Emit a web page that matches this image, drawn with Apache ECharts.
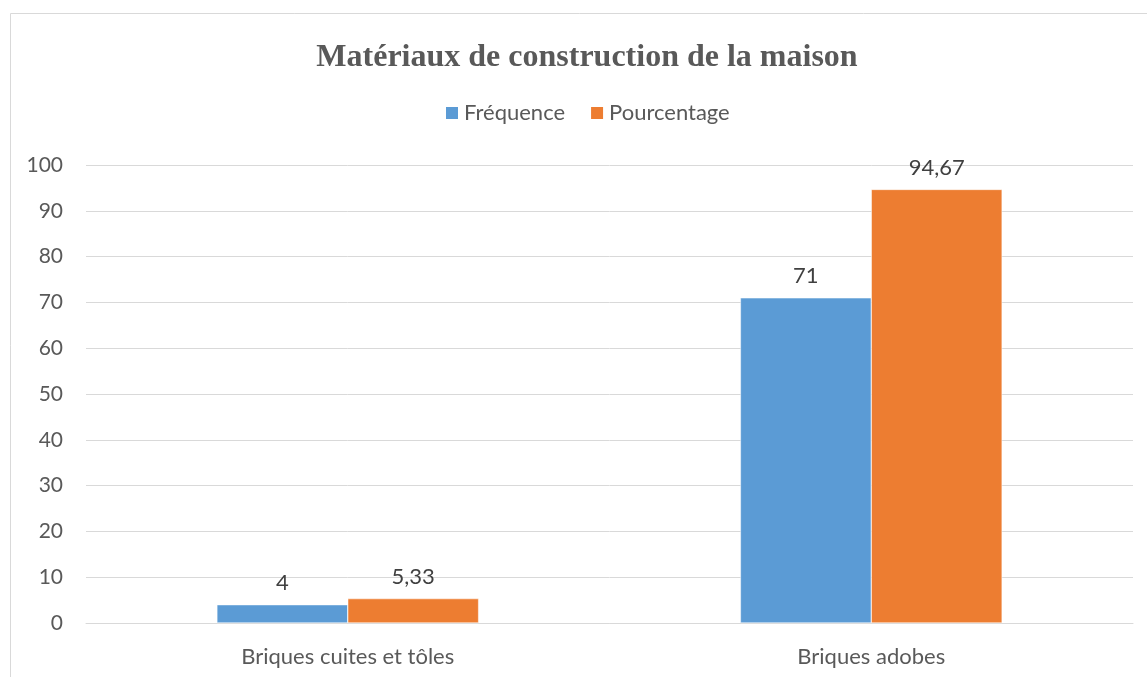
<!DOCTYPE html>
<html>
<head>
<meta charset="utf-8">
<script src="https://cdn.jsdelivr.net/npm/echarts@6/dist/echarts.min.js"></script>
<style>
html,body{margin:0;padding:0;background:#fff;}
#chart{width:1147px;height:677px;}
</style>
</head>
<body>
<div id="chart"></div>
<script>
// données
var categories = ['Briques cuites et tôles', 'Briques adobes'];
var frequence = [4, 71];
var pourcentage = [5.33, 94.67];

var chart = echarts.init(document.getElementById('chart'));

var labelFmt = function (p) {
    return String(p.value).replace('.', ',');
};

var option = {
    animation: false,
    graphic: [{
        type: 'rect',
        shape: { x: 10.5, y: 13.5, width: 1200, height: 700 },
        style: { fill: 'none', stroke: '#d9d9d9', lineWidth: 1 },
        silent: true
    }],
    title: {
        text: 'Matériaux de construction de la maison',
        left: 582,
        top: 37,
        textAlign: 'center',
        textStyle: {
            fontFamily: 'Liberation Serif',
            fontWeight: 'bold',
            fontSize: 32,
            color: '#595959'
        }
    },
    legend: {
        top: 97,
        left: 439,
        itemWidth: 14,
        itemHeight: 14,
        itemGap: 24,
        icon: 'rect',
        textStyle: { fontFamily: 'Lato', fontSize: 22, color: '#595959' },
        data: ['Fréquence', 'Pourcentage']
    },
    grid: { left: 86, right: 14, top: 165, bottom: 54 },
    xAxis: {
        type: 'category',
        data: categories,
        axisLine: { show: true, lineStyle: { color: '#d9d9d9' } },
        axisTick: { show: false },
        axisLabel: {
            margin: 23,
            fontFamily: 'Lato',
            fontSize: 22,
            color: '#595959'
        }
    },
    yAxis: {
        type: 'value',
        min: 0,
        max: 100,
        interval: 10,
        axisLine: { show: false },
        axisTick: { show: false },
        axisLabel: {
            margin: 23,
            fontFamily: 'Lato',
            fontSize: 21,
            color: '#595959'
        },
        splitLine: { lineStyle: { color: '#d9d9d9', width: 1 } }
    },
    series: [
        {
            name: 'Fréquence',
            type: 'bar',
            data: frequence,
            barGap: '0%',
            barCategoryGap: '50%',
            itemStyle: { color: '#5B9BD5', borderColor: '#fff', borderWidth: 0.5 },
            label: {
                show: true,
                position: 'top',
                distance: 11,
                formatter: labelFmt,
                fontFamily: 'Lato',
                fontSize: 22,
                color: '#404040'
            }
        },
        {
            name: 'Pourcentage',
            type: 'bar',
            data: pourcentage,
            itemStyle: { color: '#ED7D31', borderColor: '#fff', borderWidth: 0.5 },
            label: {
                show: true,
                position: 'top',
                distance: 11,
                formatter: labelFmt,
                fontFamily: 'Lato',
                fontSize: 22,
                color: '#404040'
            }
        }
    ]
};

chart.setOption(option);
</script>
</body>
</html>
